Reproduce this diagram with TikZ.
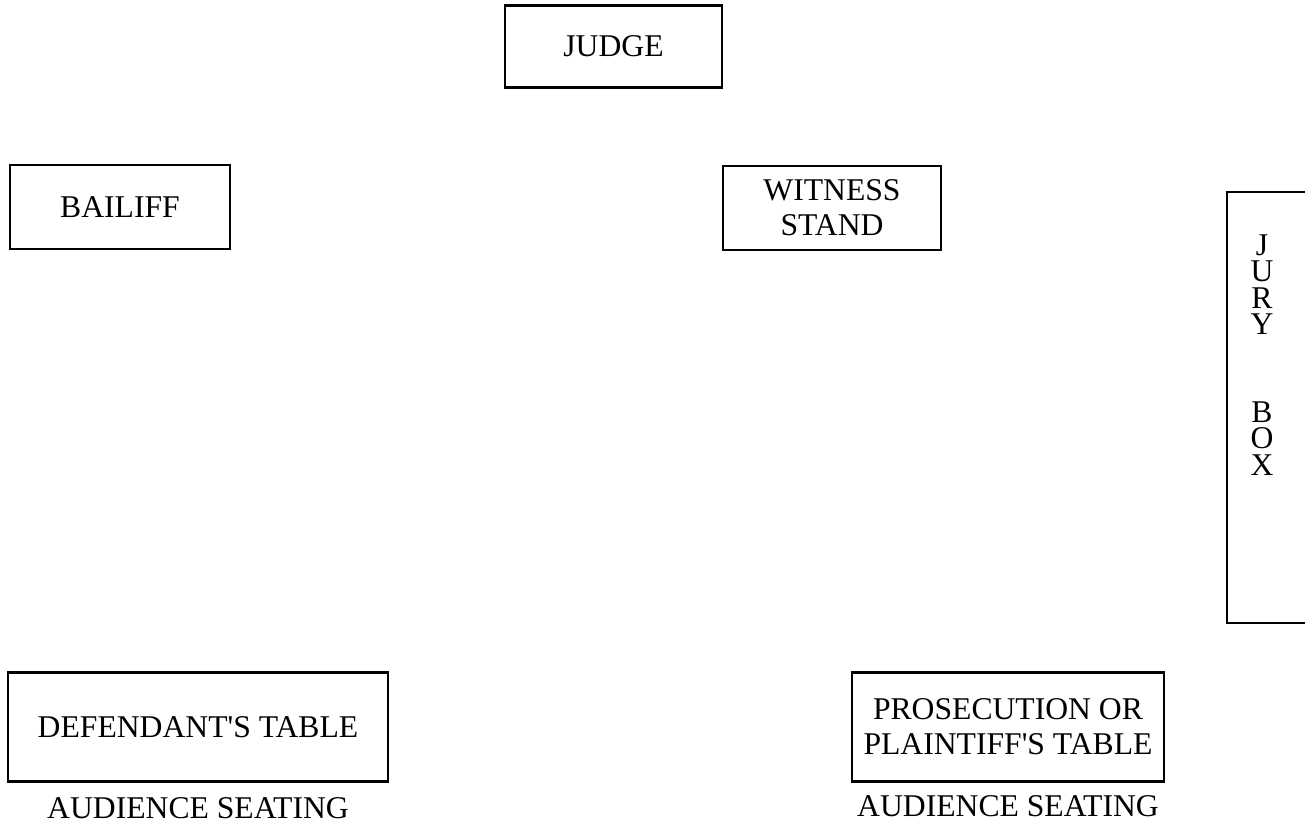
\documentclass[tikz,border=0pt]{standalone}
\usepackage{fontspec}
\setmainfont{Liberation Serif}
\begin{document}
\begin{tikzpicture}[x=0.01cm,y=-0.01cm,
    roombox/.style={draw, line width=0.6pt, align=center, inner sep=0pt},
    label/.style={align=center, inner sep=0pt}]
    \fontsize{9}{10}\selectfont
    \useasboundingbox (0,0) rectangle (1305,825);
    \clip (0,0) rectangle (1305,825);

    \node[roombox, minimum width=2.17cm, minimum height=0.82cm] (judge) at (613.5,46.5) {JUDGE};
    \node[roombox, minimum width=2.20cm, minimum height=0.84cm] (bailiff) at (120,207) {BAILIFF};
    \node[roombox, minimum width=2.18cm, minimum height=0.84cm] (witness) at (832,208) {WITNESS\\STAND};
    \node[roombox, minimum width=3.79cm, minimum height=1.09cm] (defense) at (198,727) {DEFENDANT\textquotesingle S TABLE};
    \node[roombox, minimum width=3.12cm, minimum height=1.09cm] (prosecution) at (1008,727) {PROSECUTION OR\\PLAINTIFF\textquotesingle S TABLE};

    % jury box runs off the right edge
    \coordinate (jurytop) at (1227,192);
    \coordinate (jurybot) at (1227,623);
    \draw[line width=0.6pt] (1310,192) -- (jurytop) -- (jurybot) -- (1310,623);
    \node[label, font=\fontsize{9}{7.49}\selectfont] (jury) at (1262,355) {J\\U\\R\\Y\\[17.5pt]B\\O\\X};

    \node[label] (seatleft) at (198,808) {AUDIENCE SEATING};
    \node[label] (seatright) at (1008,806) {AUDIENCE SEATING};
\end{tikzpicture}
\end{document}
